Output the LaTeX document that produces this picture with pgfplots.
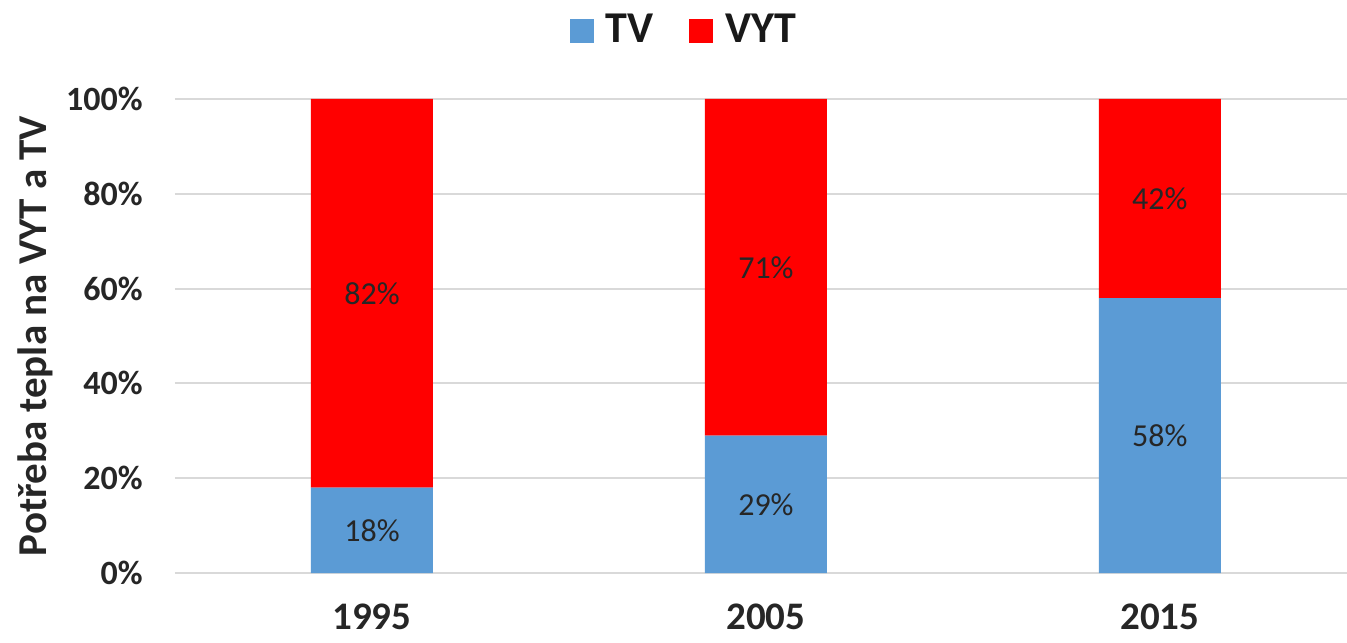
\documentclass[border=0pt]{standalone}
\usepackage{pgfplots}
\pgfplotsset{compat=1.18}
\usepackage{pgfplotstable}
\usepackage{fontspec}
\setmainfont{Carlito}

\definecolor{tvblue}{HTML}{5B9BD5}
\definecolor{vytred}{HTML}{FF0000}
\definecolor{gridgray}{HTML}{D9D9D9}
\definecolor{labeltext}{HTML}{262626}

% share of heat demand: hot water (TV) and space heating (VYT), in %
\pgfplotstableread{
x tv vyt
0 18 82
1 29 71
2 58 42
}\heatdata

\begin{document}
\begin{tikzpicture}
\useasboundingbox (-87.5pt,-34.5pt) rectangle (586pt,286.5pt);
\begin{axis}[
  at={(0,0)}, anchor=south west,
  scale only axis,
  width=586pt, height=237pt,
  ybar stacked,
  bar width=61pt,
  xmin=-0.5, xmax=2.475,
  ymin=0, ymax=100,
  xtick=data,
  xticklabels={1995,2005,2015},
  ytick={0,20,40,60,80,100},
  yticklabel={\pgfmathprintnumber{\tick}\%},
  /pgf/number format/assume math mode=true,
  axis line style={draw=none},
  major tick length=0pt,
  ymajorgrids,
  major grid style={draw=gridgray, line width=1pt},
  yticklabel style={font=\bfseries\fontsize{17}{20}\selectfont, inner sep=0pt, xshift=-16pt, text=black!85},
  xticklabel style={font=\bfseries\fontsize{19.5}{23}\selectfont, anchor=north, inner sep=0pt, yshift=-15.5pt, text=black!85},
  every axis y label/.style={at={(axis description cs:-0.119,0.5)}, rotate=90, anchor=center,
    font=\bfseries\fontsize{20.5}{24}\selectfont, text=black!85},
  ylabel={Potřeba tepla na VYT a TV},
  legend style={draw=none, fill=none, legend columns=-1,
    at={(axis description cs:0.435,1.1456)}, anchor=center,
    font=\bfseries\fontsize{22}{26}\selectfont, text=black!90,
    /tikz/every odd column/.append style={column sep=4pt},
    /tikz/every even column/.append style={column sep=16pt}},
  visualization depends on={rawy \as \segval},
  nodes near coords={\pgfmathprintnumber{\segval}\%},
  every node near coord/.append style={font=\fontsize{16}{19}\selectfont, text=labeltext,
    anchor=center},
]
\addplot+[fill=tvblue, draw=none,
  legend image code/.code={\fill[tvblue] (0pt,-6.5pt) rectangle (12pt,5.5pt);}]
  table[x=x, y=tv]{\heatdata};
\addplot+[fill=vytred, draw=none,
  legend image code/.code={\fill[vytred] (0pt,-6.5pt) rectangle (12pt,5.5pt);}]
  table[x=x, y=vyt]{\heatdata};
\legend{TV,VYT}
\end{axis}
\end{tikzpicture}
\end{document}
